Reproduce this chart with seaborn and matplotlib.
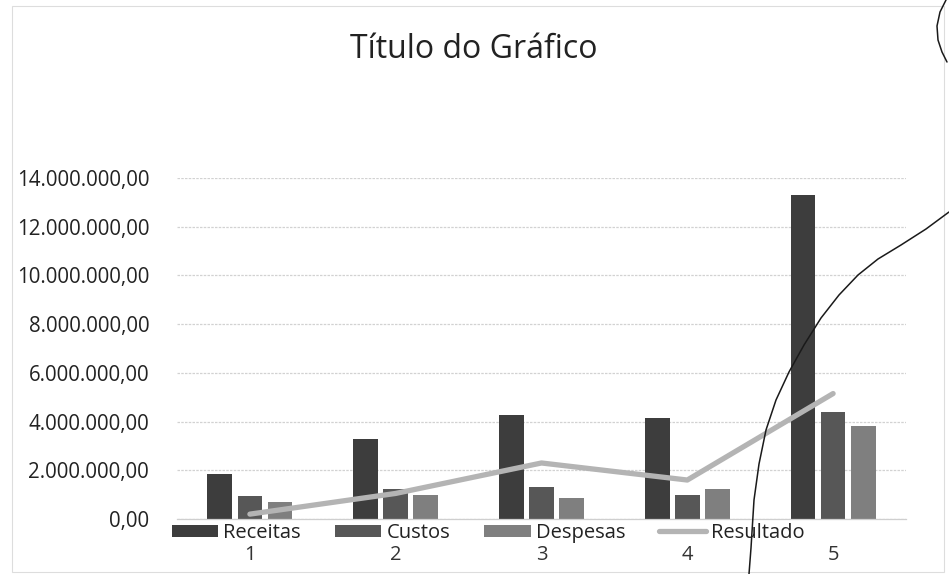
import numpy as np
import pandas as pd
import matplotlib
matplotlib.use("Agg")
import matplotlib.pyplot as plt
from matplotlib.ticker import FuncFormatter
from matplotlib.lines import Line2D
from matplotlib.patches import Rectangle
import seaborn as sns

# Dados por período
categorias = ["1", "2", "3", "4", "5"]
receitas = [1.85e6, 3.3e6, 4.25e6, 4.15e6, 13.3e6]
custos = [0.95e6, 1.25e6, 1.3e6, 1.0e6, 4.4e6]
despesas = [0.7e6, 1.0e6, 0.85e6, 1.25e6, 3.8e6]
resultado = [0.2e6, 1.05e6, 2.3e6, 1.6e6, 5.15e6]
series = ["Receitas", "Custos", "Despesas"]
titulo = "Título do Gráfico"

cores = {"Receitas": "#3d3d3d", "Custos": "#575757", "Despesas": "#7f7f7f"}
cor_resultado = "#b4b4b4"

df = pd.DataFrame({
    "Período": categorias * 3,
    "Valor": receitas + custos + despesas,
    "Série": [s for s in series for _ in categorias],
})

sns.set_theme(style="white")
plt.rcParams["font.family"] = ["Open Sans", "DejaVu Sans"]

W, H = 949, 574
fig = plt.figure(figsize=(W / 100, H / 100), dpi=100)
fig.patch.set_facecolor("white")
ax = fig.add_axes([177 / W, 1 - 519 / H, (906 - 177) / W, (519 - 178) / H])

sns.barplot(data=df, x="Período", y="Valor", hue="Série", hue_order=series,
            palette=cores, saturation=1, width=0.62, gap=0.18,
            ax=ax, linewidth=0)
sns.lineplot(x=np.arange(len(categorias)), y=resultado, color=cor_resultado,
             linewidth=3.8, solid_capstyle="round", label="Resultado", ax=ax)

ax.set_xlim(-0.5, len(categorias) - 0.5)
ax.set_ylim(0, 14e6)
ax.set_yticks(np.arange(0, 14e6 + 1, 2e6))


def fmt_br(v, _):
    s = f"{v:,.2f}"
    return s.replace(",", "X").replace(".", ",").replace("X", ".")


ax.yaxis.set_major_formatter(FuncFormatter(fmt_br))
ax.grid(axis="y", color="#d2d2d2", linewidth=0.9, linestyle=(0, (2, 1)))
ax.set_axisbelow(True)
for side in ["top", "right", "left"]:
    ax.spines[side].set_visible(False)
ax.spines["bottom"].set_color("#cfcfcf")
ax.spines["bottom"].set_linewidth(0.9)
ax.set_xlabel("")
ax.set_ylabel("")
ax.tick_params(axis="y", length=0, pad=20, labelsize=14.8, labelcolor="#222222")
ax.tick_params(axis="x", length=0, pad=19, labelsize=14.5, labelcolor="#333333")

handles, labels = ax.get_legend_handles_labels()
ax.get_legend().remove()
fig.legend(handles, labels, loc="center", ncol=4,
           bbox_to_anchor=(488 / W, 1 - 533 / H), frameon=False,
           fontsize=14.5, handlelength=2.3, handleheight=0.6,
           handletextpad=0.25, columnspacing=1.7, labelcolor="#222222")

fig.text(474 / W, 1 - 49 / H, titulo, ha="center", va="center",
         fontsize=23, color="#222222")

# moldura clara da área do gráfico
fig.add_artist(Rectangle((12 / W, 1 - 572 / H), (944 - 12) / W, (572 - 6) / H,
                         transform=fig.transFigure, fill=False,
                         edgecolor="#dddddd", linewidth=0.8))

# traço de caneta sobre a folha
px = np.array([749, 751, 754, 759, 766, 776, 789, 804, 821, 839, 858, 878, 901, 926, 949])
py = np.array([574, 548, 500, 464, 430, 400, 372, 345, 318, 295, 275, 259, 245, 229, 212])
fig.add_artist(Line2D(px / W, 1 - py / H, transform=fig.transFigure,
                      color="#1a1a1a", linewidth=1.1))
qx = np.array([946, 940, 937, 938, 942, 947])
qy = np.array([0, 12, 26, 40, 52, 62])
fig.add_artist(Line2D(qx / W, 1 - qy / H, transform=fig.transFigure,
                      color="#1a1a1a", linewidth=1.1))

fig.savefig("out.png", dpi=100, facecolor="white")
